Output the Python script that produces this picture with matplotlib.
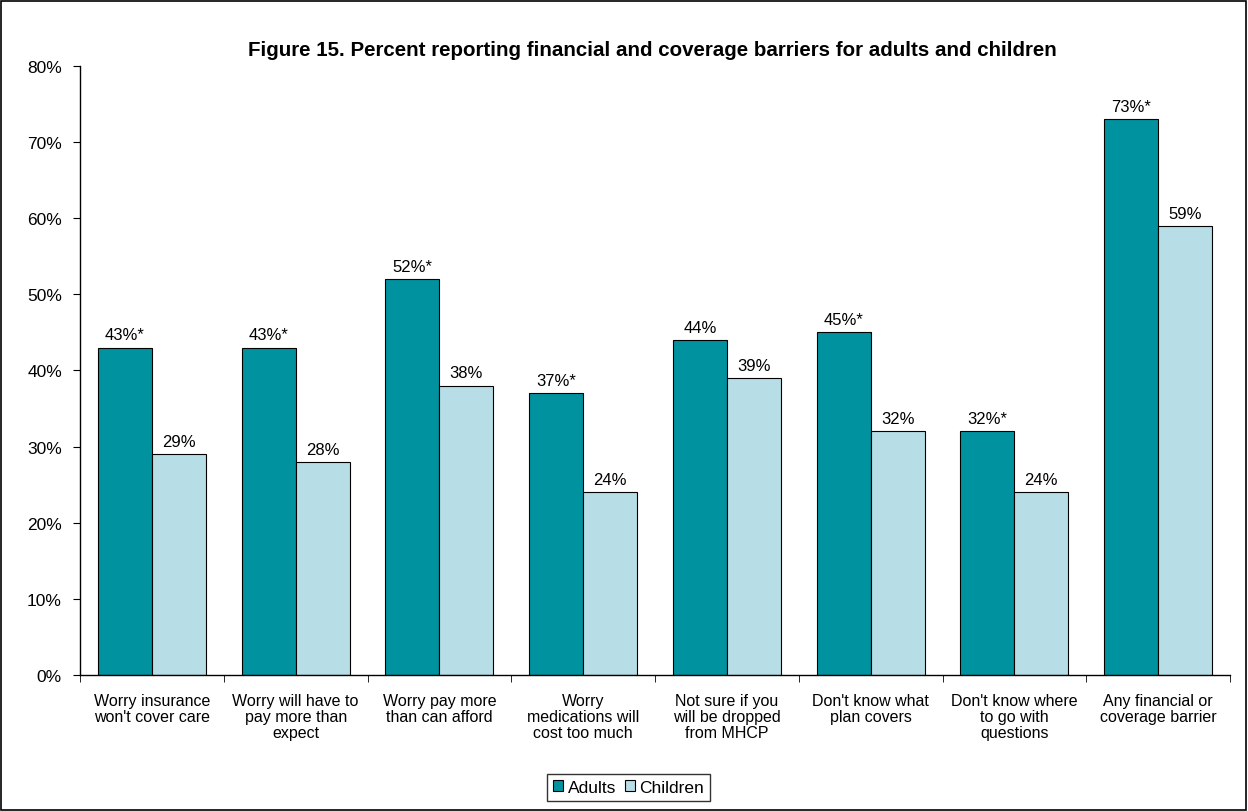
import matplotlib.pyplot as plt
import numpy as np
from matplotlib.patches import Rectangle

plt.rcParams['font.family'] = ['Liberation Sans', 'DejaVu Sans']

categories = ["Worry insurance\nwon't cover care",
              "Worry will have to\npay more than\nexpect",
              "Worry pay more\nthan can afford",
              "Worry\nmedications will\ncost too much",
              "Not sure if you\nwill be dropped\nfrom MHCP",
              "Don't know what\nplan covers",
              "Don't know where\nto go with\nquestions",
              "Any financial or\ncoverage barrier"]
adults = [43, 43, 52, 37, 44, 45, 32, 73]
children = [29, 28, 38, 24, 39, 32, 24, 59]
# significance marker for adults vs children
adult_sig = [True, True, True, True, False, True, True, True]

fig = plt.figure(figsize=(12.48, 8.12), dpi=100)
ax = fig.add_axes([0.0641, 0.1675, 0.9215, 0.75])

x = np.arange(len(categories))
w = 0.375
b1 = ax.bar(x - w / 2, adults, w, color='#00929F', edgecolor='black', linewidth=0.8, label='Adults')
b2 = ax.bar(x + w / 2, children, w, color='#B7DDE6', edgecolor='black', linewidth=0.8, label='Children')

for rect, v, s in zip(b1, adults, adult_sig):
    ax.text(rect.get_x() + rect.get_width() / 2, v + 0.7, f"{v}%" + ("*" if s else ""),
            ha='center', va='bottom', fontsize=12)
for rect, v in zip(b2, children):
    ax.text(rect.get_x() + rect.get_width() / 2, v + 0.7, f"{v}%",
            ha='center', va='bottom', fontsize=12)

ax.set_xlim(-0.5, len(categories) - 0.5)
ax.set_ylim(0, 80)
ax.set_yticks(range(0, 81, 10))
ax.set_yticklabels([f"{t}%" for t in range(0, 81, 10)], fontsize=12.5)

# category labels centred, tick marks on group boundaries
ax.set_xticks(x)
ax.set_xticklabels(categories, fontsize=11.5, linespacing=1.1)
ax.tick_params(axis='x', which='major', length=0, pad=13)
ax.set_xticks(np.arange(-0.5, len(categories)), minor=True)
ax.tick_params(axis='x', which='minor', length=5, direction='out')
ax.tick_params(axis='y', length=5, direction='out', pad=8)

for side in ['top', 'right']:
    ax.spines[side].set_visible(False)
for side in ['left', 'bottom']:
    ax.spines[side].set_linewidth(1.0)

fig.text(0.523, 0.938, "Figure 15. Percent reporting financial and coverage barriers for adults and children",
         ha='center', va='center', fontsize=14.8, fontweight='bold')

leg = fig.legend(handles=[b1, b2], loc='center', bbox_to_anchor=(0.5036, 0.029), ncol=2,
                 fontsize=12.5, frameon=True, fancybox=False, edgecolor='black',
                 handlelength=0.6, handleheight=0.6, handletextpad=0.25, columnspacing=0.5,
                 borderpad=0.35, borderaxespad=0)
leg.get_frame().set_linewidth(1.0)

# border around the whole figure
fig.patches.append(Rectangle((0.001, 0.001), 0.997, 0.997, transform=fig.transFigure,
                             fill=False, edgecolor='black', linewidth=1.2))

fig.savefig('out.png', dpi=100)
